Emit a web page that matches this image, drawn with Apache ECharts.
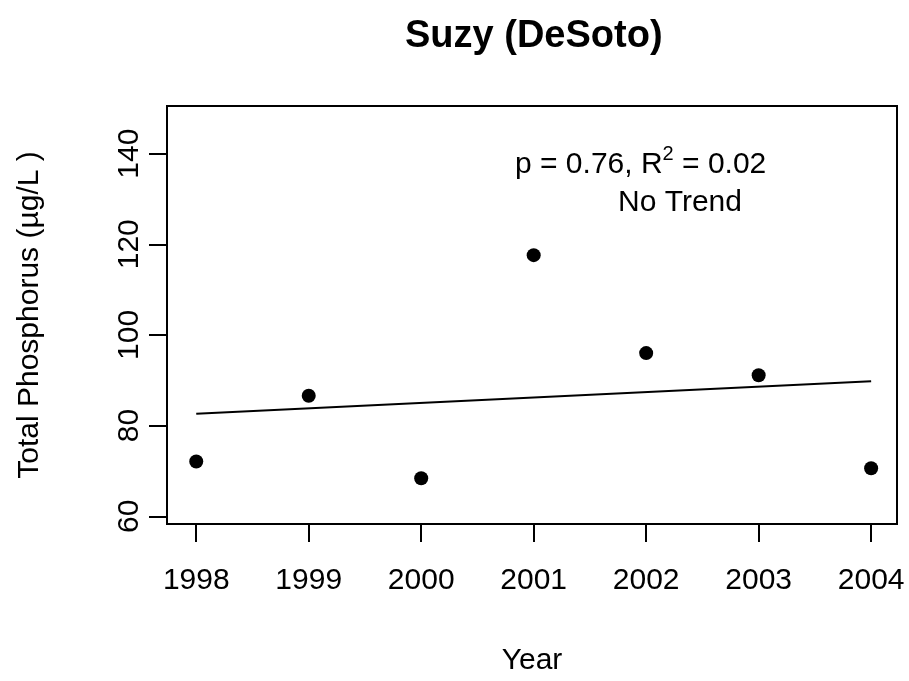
<!DOCTYPE html>
<html>
<head>
<meta charset="utf-8">
<script src="https://cdn.jsdelivr.net/npm/echarts@6/dist/echarts.min.js"></script>
<style>html,body{margin:0;padding:0;background:#fff}#c{width:909px;height:681px}</style>
</head>
<body>
<div id="c"></div>
<script>
var years = [1998, 1999, 2000, 2001, 2002, 2003, 2004];
var phosphorus = [72.1, 86.6, 68.4, 117.6, 96.0, 91.1, 70.6];
var trendYears = [1998, 2004];
var trendValues = [82.6, 89.8];
var xTicks = [1998, 1999, 2000, 2001, 2002, 2003, 2004];
var yTicks = [60, 80, 100, 120, 140];
var titleText = 'Suzy (DeSoto)';
var statPre = 'p = 0.76, R';
var statSup = '2';
var statPost = ' = 0.02';
var trendText = 'No Trend';
var xName = 'Year';
var yName = 'Total Phosphorus (\u00B5g/L )';

var FONT = 'Liberation Sans, Arial, sans-serif';
var chart = echarts.init(document.getElementById('c'), null, {renderer: 'canvas'});
var option = {
  backgroundColor: '#ffffff',
  animation: false,
  title: {
    text: titleText, left: 400, top: 13,
    textStyle: {fontFamily: FONT, fontSize: 38, fontWeight: 'bold', color: '#000'}
  },
  grid: {
    left: 167, right: 12, top: 106, bottom: 155,
    show: true, borderColor: '#000', borderWidth: 2, backgroundColor: 'transparent'
  },
  xAxis: {
    type: 'value', min: 1997.74, max: 2004.23,
    name: xName, nameLocation: 'middle', nameGap: 122,
    nameTextStyle: {fontFamily: FONT, fontSize: 30, color: '#000'},
    axisLine: {show: false},
    splitLine: {show: false},
    axisTick: {show: true, length: 18, lineStyle: {color: '#000', width: 2}, customValues: xTicks},
    axisLabel: {show: true, margin: 42, fontFamily: FONT, fontSize: 30, color: '#000', customValues: xTicks,
      formatter: function (v) { return String(v); }}
  },
  yAxis: {
    type: 'value', min: 58.3, max: 150.5,
    name: yName, nameLocation: 'middle', nameGap: 122, nameRotate: 90,
    nameTextStyle: {fontFamily: FONT, fontSize: 30, color: '#000'},
    axisLine: {show: false},
    splitLine: {show: false},
    axisTick: {show: true, length: 18, lineStyle: {color: '#000', width: 2}, customValues: yTicks},
    axisLabel: {show: true, rotate: 90, margin: 22, fontFamily: FONT, fontSize: 30, color: '#000', customValues: yTicks,
      formatter: function (v) { return String(v); }}
  },
  graphic: [
    {type: 'text', left: 515, top: 144, style: {
      text: '{n|' + statPre + '}{s|' + statSup + '}{n|' + statPost + '}',
      fontFamily: FONT, fontSize: 30, fill: '#000',
      rich: {
        n: {fontFamily: FONT, fontSize: 30, lineHeight: 36, verticalAlign: 'bottom', fill: '#000'},
        s: {fontFamily: FONT, fontSize: 20, lineHeight: 20, verticalAlign: 'top', fill: '#000'}
      }
    }},
    {type: 'text', left: 618, top: 188, style: {text: trendText, fontFamily: FONT, fontSize: 30, fill: '#000'}}
  ],
  series: [
    {
      type: 'line',
      data: trendYears.map(function (y, i) { return [y, trendValues[i]]; }),
      symbol: 'none',
      lineStyle: {color: '#000', width: 2},
      silent: true
    },
    {
      type: 'scatter',
      data: years.map(function (y, i) { return [y, phosphorus[i]]; }),
      symbol: 'circle', symbolSize: 14,
      itemStyle: {color: '#000', opacity: 1},
      silent: true
    }
  ]
};
chart.setOption(option);
</script>
</body>
</html>
